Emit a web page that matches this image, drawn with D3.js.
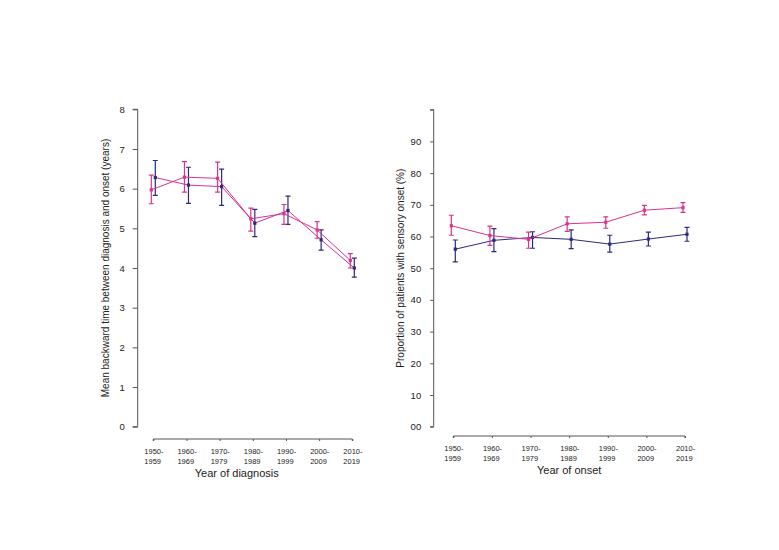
<!DOCTYPE html>
<html><head><meta charset="utf-8">
<script src="https://cdn.jsdelivr.net/npm/d3@7"></script>
<style>body{margin:0;background:#fff}svg{display:block}text{font-family:"Liberation Sans",Arial,sans-serif;fill:#222}</style>
</head><body>
<svg id="c" width="779" height="550"></svg>
<script>
const categories = ["1950-1959","1960-1969","1970-1979","1980-1989","1990-1999","2000-2009","2010-2019"];
// Left panel: mean backward time (years)
const leftPink      = [5.97, 6.29, 6.26, 5.24, 5.37, 4.96, 4.19];
const leftPinkLo    = [5.62, 5.91, 5.91, 4.93, 5.10, 4.75, 4.00];
const leftPinkHi    = [6.34, 6.68, 6.67, 5.51, 5.60, 5.17, 4.36];
const leftNavy      = [6.28, 6.09, 6.05, 5.13, 5.45, 4.71, 4.00];
const leftNavyLo    = [5.83, 5.63, 5.58, 4.79, 5.10, 4.45, 3.77];
const leftNavyHi    = [6.71, 6.54, 6.49, 5.48, 5.81, 4.96, 4.25];
const leftTicks     = [0,1,2,3,4,5,6,7,8];
const leftTickLabels= ["0","1","2","3","4","5","6","7","8"];
// Right panel: proportion with sensory onset (%)
const rightPink     = [63.4, 60.3, 59.1, 64.0, 64.5, 68.3, 69.1];
const rightPinkLo   = [60.4, 57.2, 56.3, 61.6, 62.6, 66.8, 67.6];
const rightPinkHi   = [66.7, 63.3, 61.4, 66.2, 66.2, 69.8, 70.7];
const rightNavy     = [56.0, 58.8, 59.7, 59.1, 57.6, 59.2, 60.7];
const rightNavyLo   = [52.0, 55.2, 56.3, 56.2, 55.1, 57.0, 58.5];
const rightNavyHi   = [58.9, 62.5, 61.5, 62.1, 60.4, 61.4, 62.9];
const rightTicks    = [0,10,20,30,40,50,60,70,80,90,100];
const rightTickLabels = ["00","10","20","30","40","50","60","70","80","90",""];

const PINK = "#d9338f", NAVY = "#2b2a7c", AX = "#555";
const svg = d3.select("#c");

function panel(o){
  const g = svg.append("g");
  const x = d3.scalePoint().domain(categories).range([o.x0, o.x1]);
  const y = d3.scaleLinear().domain(o.yDomain).range([o.yBottom, o.yTop]);
  // y axis
  const ya = d3.axisLeft(y).tickValues(o.ticks).tickSize(o.tickLen)
    .tickFormat((d,i)=>o.tickLabels[i]).tickPadding(o.tickPad);
  const yg = g.append("g").attr("transform",`translate(${o.yAxisX},0)`).call(ya);
  yg.select(".domain").attr("stroke",AX).attr("d",`M-${o.tickLen},${o.yTop}H0V${o.yBottom}H-${o.tickLen}`);
  yg.selectAll(".tick line").attr("stroke",AX);
  yg.selectAll(".tick text").style("font-size","9.5px").attr("fill","#222");
  // x axis
  const xa = d3.axisBottom(x).tickSize(2).tickFormat("");
  const xg = g.append("g").attr("transform",`translate(0,${o.xAxisY})`).call(xa);
  xg.select(".domain").attr("stroke",AX).attr("d",`M${o.x0},2V0H${o.x1}V2`);
  xg.selectAll(".tick line").attr("stroke",AX);
  categories.forEach(c=>{
    const [a,b] = c.split("-");
    const t = g.append("text").attr("x",x(c)-9).attr("y",o.xAxisY+15)
      .style("font-size","7.5px");
    t.append("tspan").attr("x",x(c)-9).text(a+"-");
    t.append("tspan").attr("x",x(c)-9).attr("dy","9.5").text(b);
  });
  g.append("text").attr("x",(o.x0+o.x1)/2 + o.xTitleOff).attr("y",o.xAxisY+38)
    .attr("text-anchor","middle").style("font-size","11px").text(o.xTitle);
  g.append("text").attr("transform",`translate(${o.yTitleX},${(o.yTop+o.yBottom)/2}) rotate(-90)`)
    .attr("text-anchor","middle").style("font-size","10px").text(o.yTitle);
  // series
  o.series.forEach(s=>{
    const px = i => x(categories[i]) + s.off;
    const line = d3.line().x((d,i)=>px(i)).y(d=>y(d));
    g.append("path").datum(s.v).attr("d",line).attr("fill","none")
      .attr("stroke",s.lineColor).attr("stroke-width",1);
    s.v.forEach((v,i)=>{
      const cx = px(i);
      g.append("path").attr("d",`M${cx},${y(s.lo[i])}V${y(s.hi[i])}M${cx-2.5},${y(s.lo[i])}h5M${cx-2.5},${y(s.hi[i])}h5`)
        .attr("stroke",s.color).attr("stroke-width",1.2).attr("fill","none");
      g.append("rect").attr("x",cx-1.6).attr("y",y(v)-1.6).attr("width",3.2).attr("height",3.2).attr("fill",s.color);
    });
  });
}

panel({x0:153.3,x1:352.3,yAxisX:137.7,yTop:109.3,yBottom:426.7,yDomain:[0,8],
  ticks:leftTicks,tickLabels:leftTickLabels,tickLen:5,tickPad:8,xAxisY:439,
  xTitle:"Year of diagnosis",xTitleOff:-16,yTitleX:109,
  yTitle:"Mean backward time between diagnosis and onset (years)",
  series:[
    {v:leftNavy,lo:leftNavyLo,hi:leftNavyHi,color:NAVY,lineColor:PINK,off:2},
    {v:leftPink,lo:leftPinkLo,hi:leftPinkHi,color:PINK,lineColor:PINK,off:-2}
  ]});

panel({x0:453.3,x1:685,yAxisX:433.7,yTop:109.7,yBottom:426.7,yDomain:[0,100],
  ticks:rightTicks,tickLabels:rightTickLabels,tickLen:3.5,tickPad:9,xAxisY:436,
  xTitle:"Year of onset",xTitleOff:0,yTitleX:404,
  yTitle:"Proportion of patients with sensory onset (%)",
  series:[
    {v:rightNavy,lo:rightNavyLo,hi:rightNavyHi,color:NAVY,lineColor:NAVY,off:2},
    {v:rightPink,lo:rightPinkLo,hi:rightPinkHi,color:PINK,lineColor:PINK,off:-2}
  ]});
</script>
</body></html>
